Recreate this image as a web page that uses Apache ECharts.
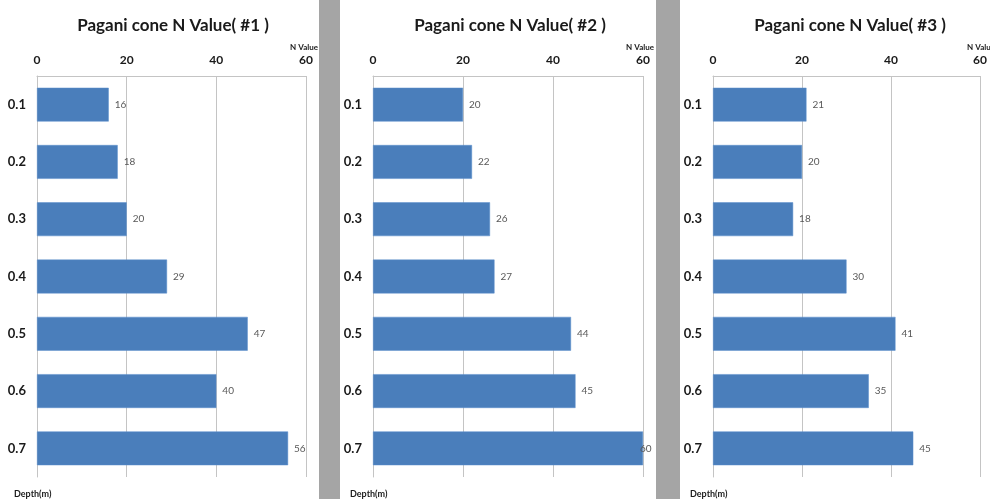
<!DOCTYPE html>
<html>
<head>
<meta charset="utf-8">
<script src="https://cdn.jsdelivr.net/npm/echarts@6/dist/echarts.min.js"></script>
<style>
html,body{margin:0;padding:0;background:#fff;}
#chart{width:990px;height:499px;}
</style>
</head>
<body>
<div id="chart"></div>
<script>
// ---- data ----
var depths = ['0.1', '0.2', '0.3', '0.4', '0.5', '0.6', '0.7'];
var nValue1 = [16, 18, 20, 29, 47, 40, 56];
var nValue2 = [20, 22, 26, 27, 44, 45, 60];
var nValue3 = [21, 20, 18, 30, 41, 35, 45];
var chartTitles = ['Pagani cone N Value( #1 )', 'Pagani cone N Value( #2 )', 'Pagani cone N Value( #3 )'];
var valueTicks = [0, 20, 40, 60];
var valueAxisName = 'N Value';
var categoryAxisName = 'Depth(m)';

var seriesData = [nValue1, nValue2, nValue3];
var axisMax = valueTicks[valueTicks.length - 1];

// ---- layout ----
var FONT = 'Lato, "Open Sans", sans-serif';
var panels = [
  { left: 37, width: 269, titleX: 168, nameRight: 313, depthX: 9 },
  { left: 373, width: 270, titleX: 505, nameRight: 649, depthX: 345 },
  { left: 713, width: 270, titleX: 845, nameRight: 990, depthX: 685 }
];
var gridTop = 76, gridHeight = 401;

var titles = [], grids = [], xAxes = [], yAxes = [], series = [];
panels.forEach(function (p, i) {
  titles.push({
    text: chartTitles[i], left: p.titleX, top: 12, textAlign: 'center',
    textStyle: { fontFamily: FONT, fontWeight: 'bold', fontSize: 17, color: '#1a1a1a' }
  });
  titles.push({
    text: valueAxisName, left: p.nameRight, top: 38, textAlign: 'right',
    textStyle: { fontFamily: FONT, fontWeight: 'bold', fontSize: 8, color: '#1a1a1a' }
  });
  titles.push({
    text: categoryAxisName, left: p.depthX, top: 485, textAlign: 'left',
    textStyle: { fontFamily: FONT, fontWeight: 'bold', fontSize: 9, color: '#1a1a1a' }
  });
  grids.push({ left: p.left, width: p.width, top: gridTop, height: gridHeight, containLabel: false });
  xAxes.push({
    gridIndex: i, type: 'value', position: 'top',
    min: valueTicks[0], max: axisMax, interval: valueTicks[1] - valueTicks[0],
    axisLine: { show: true, lineStyle: { color: '#c4c4c4', width: 1 } },
    axisTick: { show: false },
    splitLine: { show: true, lineStyle: { color: '#c4c4c4', width: 1 } },
    axisLabel: { fontFamily: FONT, fontWeight: 'bold', fontSize: 12, color: '#1a1a1a', margin: 10 }
  });
  yAxes.push({
    gridIndex: i, type: 'category', inverse: true, data: depths,
    axisLine: { show: true, lineStyle: { color: '#c4c4c4', width: 1 } },
    axisTick: { show: false },
    axisLabel: { fontFamily: FONT, fontWeight: 'bold', fontSize: 13, color: '#1a1a1a', margin: 11 }
  });
  series.push({
    type: 'bar', xAxisIndex: i, yAxisIndex: i,
    data: seriesData[i].map(function (v) {
      return v >= axisMax ? { value: v, label: { distance: -3 } } : v;
    }),
    barWidth: '59%',
    itemStyle: { color: '#4a7ebb', borderColor: '#5b8fcc', borderWidth: 0.5 },
    label: { show: true, position: 'right', distance: 6, fontFamily: FONT, fontSize: 10, color: '#595959' },
    animation: false
  });
});

var chart = echarts.init(document.getElementById('chart'), null, { renderer: 'canvas' });
chart.setOption({
  animation: false,
  backgroundColor: '#ffffff',
  title: titles,
  grid: grids,
  xAxis: xAxes,
  yAxis: yAxes,
  series: series,
  graphic: [
    { type: 'rect', shape: { x: 319, y: 0, width: 21, height: 499 }, style: { fill: '#a5a5a5' }, silent: true },
    { type: 'rect', shape: { x: 656, y: 0, width: 24, height: 499 }, style: { fill: '#a5a5a5' }, silent: true }
  ]
});
</script>
</body>
</html>
